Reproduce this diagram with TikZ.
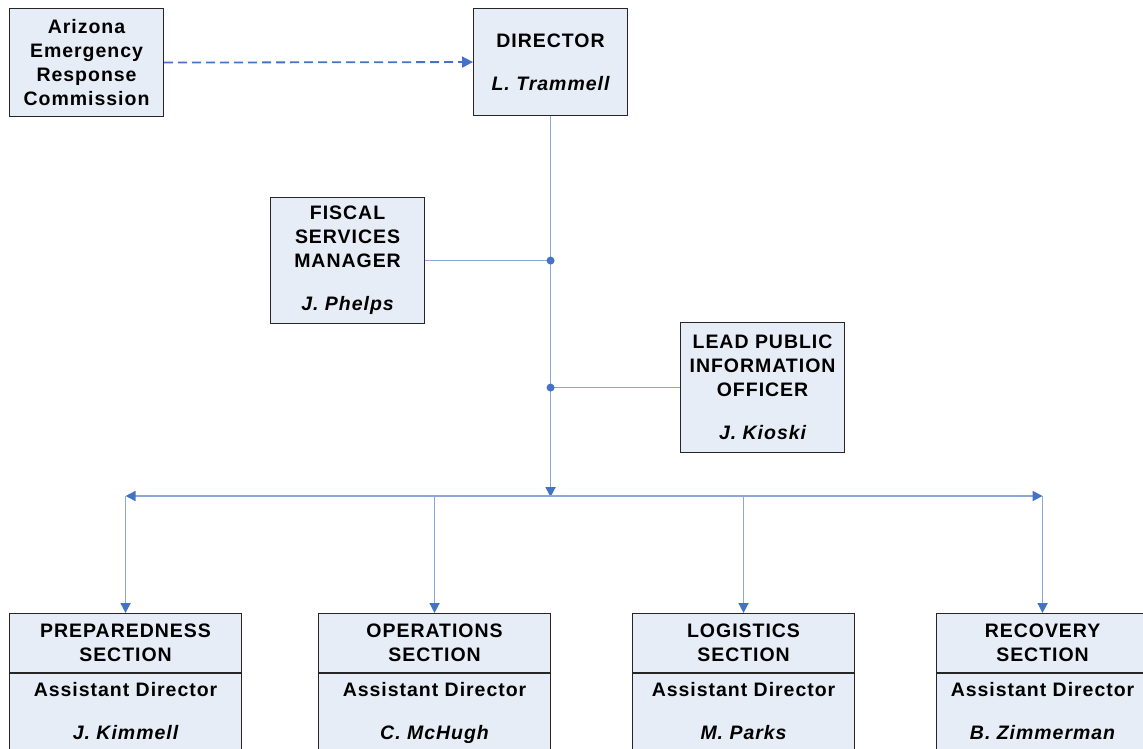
\documentclass[tikz,border=0pt]{standalone}
\usepackage{fontspec}
\setmainfont{Liberation Sans}[LetterSpace=5]
\usetikzlibrary{
  arrows.meta,
}
\definecolor{boxfill}{HTML}{E7EDF7}
\definecolor{linkblue}{HTML}{8AA8DA}
\definecolor{tipblue}{HTML}{4472C4}

\begin{document}
\begin{tikzpicture}[
  x=1pt, y=-1pt,
  unit/.style={
    draw=black!85, fill=boxfill, line width=1.1pt,
    align=center, inner sep=0pt,
    font=\fontsize{19.5}{24}\selectfont\bfseries,
  },
  headbox/.style={
    unit, anchor=north west,
  },
  link/.style={
    draw=linkblue, line width=1.7pt,
  },
  tip/.style={
    -{Triangle[length=10pt, width=10pt, color=tipblue]},
  },
  junction/.style={
    circle, fill=tipblue, inner sep=0pt, minimum size=8pt,
  },
  ]
  \useasboundingbox (0,0) rectangle (1143,748);
  \clip (0,0) rectangle (1143,748);

  % top row
  \node [headbox, minimum width=154, minimum height=108, name=node-commission]
  at (9,8) {Arizona\\Emergency\\Response\\Commission};
  \node [headbox, minimum width=154, minimum height=107, name=node-director]
  at (473,8) {DIRECTOR\\[19pt]\itshape L. Trammell};

  % staff
  \node [headbox, minimum width=154, minimum height=126, name=node-fiscal]
  at (270,197) {FISCAL\\SERVICES\\MANAGER\\[19pt]\itshape J. Phelps};
  \node [headbox, minimum width=164, minimum height=130, name=node-info]
  at (680,322) {LEAD PUBLIC\\INFORMATION\\OFFICER\\[19pt]\itshape J. Kioski};

  % sections
  \foreach \name/\left/\width/\title/\chief in {
    prep/9/232/PREPAREDNESS/J. Kimmell,
    ops/318/232/OPERATIONS/C. McHugh,
    log/632/222/LOGISTICS/M. Parks,
    rec/936/212/RECOVERY/B. Zimmerman%
  } {
    \node [headbox, minimum width=\width, minimum height=59, name=node-\name]
    at (\left,613) {\title\\SECTION};
    \node [unit, anchor=north, minimum width=\width, minimum height=81,
    name=node-\name-chief]
    at (node-\name.south) {Assistant Director\\[19pt]\itshape \chief\strut};
  }

  % connectors
  \draw [draw=tipblue, line width=1.8pt, dash pattern=on 9pt off 5pt,
  -{Triangle[length=11pt, width=11pt]}]
  (node-commission.east) -- (node-director.west);

  \coordinate (hub) at (node-director.south |- 0,496);
  \coordinate (bus-left) at (node-prep.north |- hub);
  \coordinate (bus-right) at (node-rec.north |- hub);

  \draw [link, tip] (node-director.south) -- ([yshift=-1pt]hub);
  \draw [link] (node-fiscal.east) -- (node-fiscal.east -| hub)
  node [junction] {};
  \draw [link] (node-info.west) -- (node-info.west -| hub)
  node [junction] {};
  \draw [link, {Triangle[length=10pt, width=10pt, color=tipblue]}-{Triangle[length=10pt, width=10pt, color=tipblue]}]
  (bus-left) -- (bus-right);
  \foreach \name in {prep, ops, log, rec}
  \draw [link, tip] (node-\name.north |- hub) -- (node-\name.north);
\end{tikzpicture}
\end{document}
